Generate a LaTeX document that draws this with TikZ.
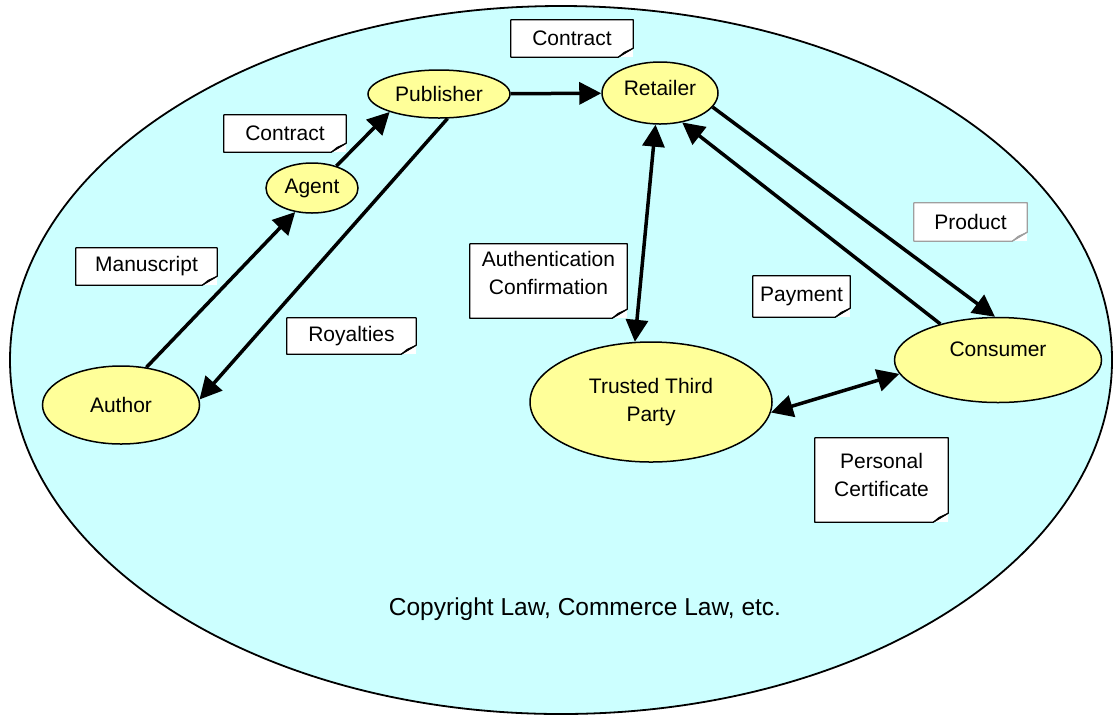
\documentclass[tikz,border=0pt]{standalone}
\usepackage{fontspec}
\setmainfont{Liberation Sans}
\usetikzlibrary{arrows.meta,shapes.geometric}
\definecolor{bgcyan}{HTML}{CCFFFF}
\definecolor{nodeyellow}{HTML}{FFFF99}
\definecolor{foldgray}{HTML}{8C8C8C}
\begin{document}
\begin{tikzpicture}[x=1pt,y=-1pt,
  every node/.style={font=\fontsize{21}{28}\selectfont},
  actor/.style={ellipse, draw=black, line width=1.5pt, fill=nodeyellow, inner sep=0pt, align=center},
  note/.style={fill=white, inner sep=0pt, align=center},
  link/.style={line width=3.5pt, -{Triangle[length=22pt,width=22pt]}},
  dlink/.style={line width=3.5pt, {Triangle[length=22pt,width=22pt]}-{Triangle[length=22pt,width=22pt]}},
]
\useasboundingbox (0,0) rectangle (1115,716);
\node[ellipse, draw=black, line width=1.8pt, fill=bgcyan, minimum width=1102pt, minimum height=708pt, inner sep=0pt] (world) at (561,360) {};

% actors
\node[actor, minimum width=142pt, minimum height=48pt] (pub) at (439,94) {Publisher};
\node[actor, minimum width=116pt, minimum height=62pt, label={[yshift=5pt]center:Retailer}] (ret) at (660,93) {};
\node[actor, minimum width=92pt, minimum height=50pt] (agent) at (312,188) {Agent};
\node[actor, minimum width=157pt, minimum height=78pt] (author) at (121,405) {Author};
\node[actor, minimum width=242pt, minimum height=120pt] (ttp) at (651,402) {Trusted Third\\Party};
\node[actor, minimum width=207pt, minimum height=85pt, label={[yshift=11pt]center:Consumer}] (cons) at (998,360) {};

% notes
\node[note, minimum width=122pt, minimum height=37pt] (n1) at (572,38.5) {Contract};
\node[note, minimum width=122pt, minimum height=37pt] (n2) at (285,133.5) {Contract};
\node[note, minimum width=141pt, minimum height=37pt] (n3) at (146.5,266.5) {Manuscript};
\node[note, minimum width=129pt, minimum height=36pt] (n4) at (351.5,336) {Royalties};
\node[note, minimum width=157pt, minimum height=74pt, label={[yshift=8.5pt, align=center]center:Authentication\\Confirmation}] (n5) at (548.5,281) {};
\node[note, minimum width=97pt, minimum height=41pt] (n6) at (801.5,296.5) {Payment};
\node[note, minimum width=113pt, minimum height=38pt] (n7) at (970.5,222) {Product};
\node[note, minimum width=133pt, minimum height=84pt, label={[yshift=5pt, align=center]center:Personal\\Certificate}] (n8) at (881.5,480) {};

\foreach \n/\c in {n1/black,n2/black,n3/black,n4/black,n5/black,n6/black,n7/gray!75,n8/black} {
  \draw[line width=1.2pt, draw=\c, line join=round]
    (\n.north west) -- (\n.north east) -- ([yshift=9pt]\n.south east)
    -- ([xshift=-15pt]\n.south east) -- (\n.south west) -- cycle;
  \filldraw[fill=foldgray, draw=\c, line width=0.8pt, line join=round]
    ([yshift=9pt]\n.south east) -- ([xshift=-15pt]\n.south east)
    -- ([xshift=-9pt,yshift=5pt]\n.south east) -- cycle;
}

\node[font=\fontsize{24.5}{30}\selectfont] (law) at (585,609) {Copyright Law, Commerce Law, etc.};

% connectors
\draw[link] (author.56) -- (agent.235);
\draw[link] (agent.42) -- (pub.200);
\draw[link] (pub.289) -- (author.4);
\draw[link] (pub) -- (ret);
\draw[dlink] (ret.262) -- (ttp.105);
\draw[link] (ret.345) -- (cons.94);
\draw[link] (cons.148) -- (ret.307);
\draw[dlink] (ttp.355) -- (cons.188);
\end{tikzpicture}
\end{document}
